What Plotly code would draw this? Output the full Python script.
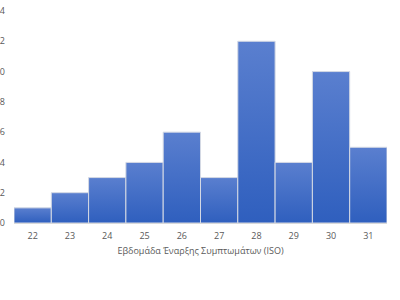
import plotly.graph_objects as go

weeks = [22, 23, 24, 25, 26, 27, 28, 29, 30, 31]
cases = [1, 2, 3, 4, 6, 3, 12, 4, 10, 5]
y_ticks = [0, 2, 4, 6, 8, 10, 12, 14]
x_title = "Εβδομάδα Έναρξης Συμπτωμάτων (ISO)"

fig = go.Figure()
for w, v in zip(weeks, cases):
    fig.add_trace(go.Scatter(
        x=[w - 0.5, w - 0.5, w + 0.5, w + 0.5, w - 0.5],
        y=[0, v, v, 0, 0],
        mode="lines",
        fill="toself",
        fillgradient=dict(type="vertical",
                          colorscale=[[0, "#2F5FBE"], [1, "#5A7FCF"]]),
        line=dict(color="#D4D9E4", width=1),
        hoverinfo="skip",
        showlegend=False,
    ))

fig.update_layout(
    width=400, height=300,
    margin=dict(l=14, r=13, t=11, b=77),
    paper_bgcolor="white", plot_bgcolor="white",
    font=dict(family="Open Sans", size=9, color="#595959"),
    xaxis=dict(
        range=[21.5, 31.5], tickvals=weeks, ticktext=[str(w) for w in weeks],
        showgrid=False, zeroline=False, showline=True, linecolor="#D9D9D9",
        linewidth=1, ticks="", ticklabelstandoff=4,
        title=dict(text=x_title, standoff=6, font=dict(size=9, color="#595959")),
        automargin=False, fixedrange=True,
    ),
    yaxis=dict(
        range=[0, 14], tickvals=y_ticks, showgrid=False, zeroline=False,
        showline=False, ticks="", ticklabelstandoff=8, automargin=False,
        fixedrange=True,
    ),
)

fig.write_html("out.html")
